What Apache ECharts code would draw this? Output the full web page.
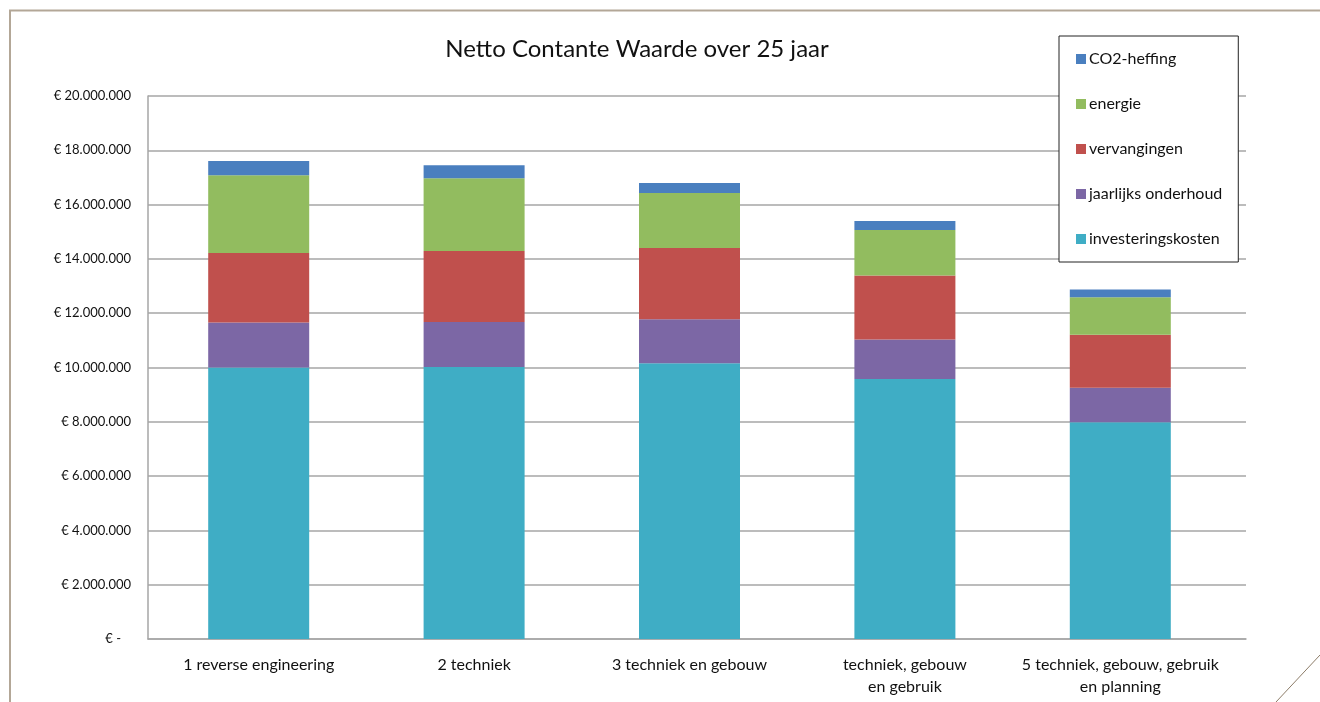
<!DOCTYPE html>
<html>
<head>
<meta charset="utf-8">
<title>Netto Contante Waarde over 25 jaar</title>
<script src="https://cdn.jsdelivr.net/npm/echarts@6/dist/echarts.min.js"></script>
<style>
  html, body { margin: 0; padding: 0; background: #fff; }
  #chart { width: 1320px; height: 702px; }
</style>
</head>
<body>
<div id="chart"></div>
<script>
// categorieen (x-as)
const categories = [
  '1 reverse engineering',
  '2 techniek',
  '3 techniek en gebouw',
  'techniek, gebouw\nen gebruik',
  '5 techniek, gebouw, gebruik\nen planning'
];

// waarden in euro
const investeringskosten = [10000000, 10020000, 10160000, 9580000, 7980000];
const jaarlijksOnderhoud = [1660000, 1660000, 1620000, 1450000, 1270000];
const vervangingen = [2560000, 2610000, 2620000, 2360000, 1960000];
const energie = [2860000, 2680000, 2030000, 1670000, 1380000];
const co2Heffing = [530000, 480000, 370000, 340000, 280000];

const seriesNames = ['investeringskosten', 'jaarlijks onderhoud', 'vervangingen', 'energie', 'CO2-heffing'];
const seriesData = [investeringskosten, jaarlijksOnderhoud, vervangingen, energie, co2Heffing];
const seriesColors = ['#3fadc5', '#7c67a5', '#c0504d', '#92bc5f', '#4a7fbf'];

const yMin = 0;
const yMax = 20000000;
const yStep = 2000000;

const font = 'Lato, "Open Sans", sans-serif';

function euro(v) {
  if (v === 0) return '€ -   ';
  return '€ ' + v.toString().replace(/\B(?=(\d{3})+(?!\d))/g, '.');
}

let chart = echarts.init(document.getElementById('chart'));

const option = {
  animation: false,
  textStyle: { fontFamily: font },
  title: {
    text: 'Netto Contante Waarde over 25 jaar',
    left: 632,
    top: 32,
    textAlign: 'center',
    textStyle: { fontFamily: font, fontSize: 24, fontWeight: 'normal', color: '#111' }
  },
  legend: {
    orient: 'vertical',
    left: 1059,
    top: 36,
    data: seriesNames.slice().reverse(),
    itemWidth: 10,
    itemHeight: 10,
    itemGap: 29,
    padding: [15, 16, 15, 17],
    backgroundColor: '#fff',
    borderColor: '#222',
    borderWidth: 1,
    icon: 'rect',
    textStyle: { fontFamily: font, fontSize: 16, color: '#111', padding: [0, 0, 0, -2] }
  },
  grid: [
    // raster voor de staven
    { left: 151, right: 92, top: 96, bottom: 63 },
    // raster voor rasterlijnen en assen
    { left: 148, right: 74, top: 96, bottom: 63 }
  ],
  xAxis: [
    {
      type: 'category',
      gridIndex: 0,
      data: categories,
      axisLine: { show: false },
      axisTick: { show: false },
      axisLabel: { fontFamily: font, fontSize: 16, color: '#111', margin: 15, lineHeight: 22, interval: 0 }
    },
    {
      type: 'value',
      gridIndex: 1,
      min: 0,
      max: 1,
      axisLine: { show: true, lineStyle: { color: '#a6a6a6', width: 1.5 } },
      axisTick: { show: false },
      axisLabel: { show: false },
      splitLine: { show: false }
    }
  ],
  yAxis: [
    {
      type: 'value',
      gridIndex: 0,
      min: yMin,
      max: yMax,
      interval: yStep,
      axisLine: { show: false },
      axisTick: { show: false },
      axisLabel: { show: false },
      splitLine: { show: false }
    },
    {
      type: 'value',
      gridIndex: 1,
      min: yMin,
      max: yMax,
      interval: yStep,
      axisLine: { show: true, lineStyle: { color: '#a6a6a6', width: 1.5 } },
      axisTick: { show: false },
      axisLabel: { fontFamily: font, fontSize: 13, color: '#111', margin: 17, formatter: euro },
      splitLine: { show: true, lineStyle: { color: '#a6a6a6', width: 1.5 } }
    }
  ],
  series: seriesNames.map((name, i) => ({
    name: name,
    type: 'bar',
    stack: 'totaal',
    xAxisIndex: 0,
    yAxisIndex: 0,
    barWidth: 101,
    itemStyle: { color: seriesColors[i] },
    data: seriesData[i]
  })),
  graphic: [
    // rand van de dia
    { type: 'polyline', silent: true, z: 10, shape: { points: [[10, 702], [10, 10.5], [1320, 10.5]] }, style: { stroke: '#b3a797', lineWidth: 2, fill: null } },
    { type: 'line', silent: true, z: 10, shape: { x1: 1276, y1: 702, x2: 1320, y2: 655 }, style: { stroke: '#8c7c68', lineWidth: 1 } }
  ]
};

chart.setOption(option);
window.addEventListener('resize', () => {
  chart.resize();
});
</script>
</body>
</html>
